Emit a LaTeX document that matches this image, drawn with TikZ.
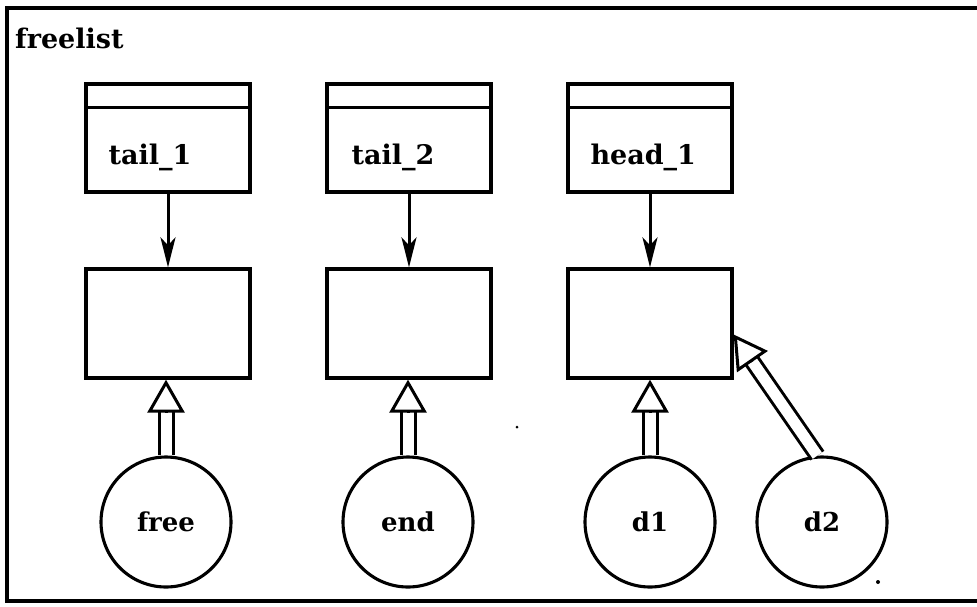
\documentclass[tikz,border=0pt]{standalone}
\usepackage{fontspec}
\setmainfont{DejaVu Serif}
\usetikzlibrary{arrows.meta,calc}
\begin{document}
\begin{tikzpicture}[x=1pt,y=-1pt,
  box/.style={draw, line width=3.3pt, minimum width=164pt, minimum height=108pt, inner sep=0pt, anchor=center},
  ent/.style={draw, circle, line width=3.1pt, minimum size=130pt, inner sep=0pt, font=\fontsize{26}{30}\selectfont\bfseries},
  lbl/.style={anchor=base west, inner sep=0pt, font=\fontsize{27}{32}\selectfont\bfseries},
  ptr/.style={line width=3pt, -{Stealth[length=30pt,width=15pt,inset=8pt]}},
  shaft/.style={line width=3pt, double, double distance=11pt},
  hhead/.style={line width=3pt, -{Triangle[length=33pt,width=37pt,fill=white]}},
  speck/.style={fill=black}
]
\useasboundingbox (0,0) rectangle (977,606);
\draw[line width=4pt] (977,8) -- (7,8) -- (7,601) -- (977,601);
\node[lbl] (title) at (15,48) {freelist};

% record boxes
\node[box] (r1) at (168,138) {};
\node[box] (r2) at (409,138) {};
\node[box] (r3) at (650,138) {};
\foreach \r in {r1,r2,r3}{
  \draw[line width=3.3pt] ($(\r.north west)+(0,25)$) -- ($(\r.north east)+(0,25)$);
}
\node[lbl] (l1) at ($(r1.south west)+(24,-29)$) {tail\_1};
\node[lbl] (l2) at ($(r2.south west)+(26,-29)$) {tail\_2};
\node[lbl] (l3) at ($(r3.south west)+(24,-29)$) {head\_1};

% middle boxes
\node[box, minimum height=109pt] (m1) at (168,323.5) {};
\node[box, minimum height=109pt] (m2) at (409,323.5) {};
\node[box, minimum height=109pt] (m3) at (650,323.5) {};

\draw[ptr] (r1.south) -- (m1.north);
\draw[ptr] (r2.south) -- (m2.north);
\draw[ptr] (r3.south) -- (m3.north);

% circles
\node[ent] (free) at (166,522) {free};
\node[ent] (end) at (408,522) {end};
\node[ent] (d1) at (650,522) {d1};
\node[ent] (d2) at (822,522) {d2};

% hollow double arrows
\coordinate (t1) at (free |- m1.south);
\coordinate (t2) at (end |- m2.south);
\coordinate (t3) at (d1 |- m3.south);
\coordinate (t4) at ($(m3.east)+(0,11)$);
\coordinate (s4) at (d2.94);
\foreach \a/\b in {free.north/t1, end.north/t2, d1.north/t3, s4/t4}{
  \draw[shaft, shorten >=31pt] (\a) -- (\b);
  \draw[hhead] ($(\b)!33pt!(\a)$) -- (\b);
}

% specks
\fill[speck] (517,427) circle (1.5pt);
\fill[speck] (878,582) circle (2pt);
\end{tikzpicture}
\end{document}
